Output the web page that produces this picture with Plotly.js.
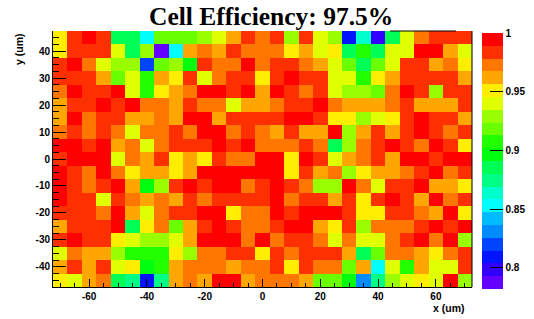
<!DOCTYPE html>
<html><head><meta charset="utf-8">
<script src="https://cdn.plot.ly/plotly-3.0.1.min.js"></script>
<style>html,body{margin:0;padding:0;background:#fff;}#chart{width:534px;height:319px;}</style>
</head><body><div id="chart"></div>
<script>
// bin centres (um)
const xCenters = [-70,-65,-60,-55,-50,-45,-40,-35,-30,-25,-20,-15,-10,-5,0,5,10,15,20,25,30,35,40,45,50,55,60,65,70];
const yCenters = [45,40,35,30,25,20,15,10,5,0,-5,-10,-15,-20,-25,-30,-35,-40,-45];

// efficiency per cell, one array per y row (top to bottom)
const effY45 = [.951,.984,.995,.984,.886,.886,.853,.918,.918,.918,.929,.940,.962,.984,.973,.984,.929,.984,.940,.929,.809,.864,.798,.886,.940,.973,.984,.984,.984];
const effY40 = [.951,.984,.984,.984,.940,.886,.929,.786,.853,.962,.973,.962,.984,.973,.973,.973,.951,.962,.940,.951,.886,.907,.886,.940,.940,.995,.995,.962,.940];
const effY35 = [.984,.995,.973,.940,.929,.929,.820,.918,.929,.896,.984,.973,.973,.995,.973,.984,.984,.973,.962,.940,.918,.886,.918,.940,.984,.984,.962,.973,.951];
const effY30 = [.984,.984,.984,.962,.918,.940,.907,.962,.951,.984,.940,.973,.984,.984,.951,.984,.995,.984,.984,.940,.940,.907,.951,.962,.984,.984,.984,.984,.962];
const effY25 = [.973,.995,.984,.984,.995,.940,.907,.951,.962,.973,.995,.995,.984,.995,.962,.995,.984,.973,.984,.940,.929,.929,.918,.973,.995,.984,.929,.984,.984];
const effY20 = [.962,.984,.984,.995,.984,.995,.973,.973,.962,.984,.973,.973,.940,.962,.962,.973,.984,.984,.995,.973,.962,.962,.962,.973,.984,.962,.962,.962,.984];
const effY15 = [.962,.995,.973,.984,.984,.962,.962,.973,.962,.995,.995,.962,.984,.984,.984,.984,.995,.995,.984,.951,.951,.929,.940,.951,.984,.995,.984,.984,.962];
const effY10 = [.973,.984,.973,.984,.973,.940,.973,.973,.984,.973,.995,.995,.973,.984,.973,.962,.984,.962,.962,.995,.929,.962,.984,.962,.984,.995,.984,.973,.984];
const effY05 = [.995,.995,.984,.995,.962,.973,.940,.973,.984,.984,.984,.995,.984,.995,.973,.973,.973,.984,.973,.886,.929,.973,.984,.995,.984,.973,.995,.984,.951];
const effY00 = [.984,.995,.995,.995,.940,.973,.962,.984,.951,.962,.951,.984,.973,.973,.995,.995,.951,.995,.984,.940,.962,.973,.984,.962,.995,.995,.984,.995,.995];
const effYm05 = [.995,.984,.973,.995,.973,.951,.962,.962,.951,.962,.995,.995,.995,.995,.995,.995,.951,.984,.962,.973,.929,.951,.962,.962,.973,.984,.995,.973,.984];
const effYm10 = [.995,.984,.973,.984,.995,.962,.896,.929,.984,.995,.984,.995,.995,.973,.984,.995,.984,.973,.929,.929,.995,.973,.940,.984,.984,.995,.962,.962,.951];
const effYm15 = [.995,.984,.984,.940,.984,.973,.962,.973,.962,.984,.973,.984,.984,.984,.984,.995,.973,.984,.984,.962,.984,.951,.984,.995,.984,.962,.995,.973,.984];
const effYm20 = [.984,.984,.984,.973,.995,.962,.940,.973,.984,.984,.995,.995,.951,.973,.973,.995,.984,.995,.995,.995,.984,.951,.951,.984,.984,.973,.962,.995,.951];
const effYm25 = [.962,.984,.984,.984,.995,.886,.951,.973,.918,.962,.984,.995,.984,.973,.973,.984,.995,.995,.962,.951,.984,.929,.973,.973,.973,.984,.995,.984,.995];
const effYm30 = [.984,.995,.984,.984,.951,.940,.929,.929,.940,.962,.995,.995,.995,.973,.995,.973,.984,.984,.973,.940,.973,.940,.940,.973,.984,.995,.973,.995,.929];
const effYm35 = [.940,.973,.962,.962,.929,.907,.907,.907,.951,.929,.973,.973,.984,.984,.951,.984,.973,.984,.984,.984,.962,.886,.918,.973,.973,.962,.951,.973,.984];
const effYm40 = [.962,.984,.962,.984,.940,.951,.896,.907,.962,.973,.973,.973,.962,.973,.973,.984,.951,.984,.973,.973,.918,.962,.853,.940,.907,.962,.940,.940,.984];
const effYm45 = [.951,.940,.962,.973,.886,.875,.809,.875,.962,.973,.962,.995,.995,.962,.973,.973,.973,.962,.918,.918,.896,.831,.875,.929,.940,.951,.940,.995,.929];

// ROOT "pretty" palette, 20 contour levels (bottom to top)
const paletteColors = ['#6300FF','#3300FF','#0014FF','#0044FF','#008BFF','#00BBFF','#00FFFC','#00FFCC','#00FF85','#00FF55',
                       '#00FF0E','#22FF00','#69FF00','#99FF00','#E0FF00','#FFEE00','#FFA700','#FF7700','#FF3000','#FF0000'];
const zMin = 0.782, zMax = 1.0;

const titleText = 'Cell Efficiency: 97.5%';
const xTitleText = 'x (um)';
const yTitleText = 'y (um)';
const xTickVals = [-60,-40,-20,0,20,40,60];
const xTickText = ['-60','-40','-20','0','20','40','60'];
const yTickVals = [-40,-30,-20,-10,0,10,20,30,40];
const yTickText = ['-40','-30','-20','-10','0','10','20','30','40'];
const cbTickVals = [0.8,0.85,0.9,0.95,1];
const cbTickText = ['0.8','0.85','0.9','0.95','1'];

const z = [effY45,effY40,effY35,effY30,effY25,effY20,effY15,effY10,effY05,effY00,
           effYm05,effYm10,effYm15,effYm20,effYm25,effYm30,effYm35,effYm40,effYm45];

const n = paletteColors.length;
const colorscale = [];
paletteColors.forEach((c,k)=>{ colorscale.push([k/n,c]); colorscale.push([(k+1)/n,c]); });

// plot geometry (px)
const W=534,H=319,L=53,R=62,T=31,B=32;
const pw=W-L-R, ph=H-T-B;
const px2x = p => (p-L)/pw;
const py2y = p => (H-B-p)/ph;

const trace = {
  type:'heatmap', x:xCenters, y:yCenters, z:z, zmin:zMin, zmax:zMax,
  colorscale:colorscale, zsmooth:false, hoverinfo:'skip',
  colorbar:{
    x:px2x(481.5), xanchor:'left', xpad:0,
    y:py2y(289), yanchor:'bottom', ypad:0,
    len:255.5, lenmode:'pixels', thickness:20.5, thicknessmode:'pixels',
    outlinewidth:0, ticks:'inside', ticklen:13, tickwidth:1, tickcolor:'#000',
    tickmode:'array', tickvals:cbTickVals, ticktext:cbTickText,
    tickfont:{family:'Liberation Sans, Arial, sans-serif', size:10, color:'#000', weight:'bold'}
  }
};

const axisFont = {family:'Liberation Sans, Arial, sans-serif', size:10, color:'#000', weight:'bold'};
const layout = {
  width:W, height:H,
  margin:{l:L,r:R,t:T,b:B,pad:0,autoexpand:false},
  paper_bgcolor:'#fff', plot_bgcolor:'#fff',
  font:axisFont,
  xaxis:{range:[-72.5,72.5], tickmode:'array', tickvals:xTickVals, ticktext:xTickText,
         ticks:'inside', ticklen:8, tickwidth:1, tickcolor:'#000',
         showline:true, linecolor:'#000', linewidth:1, mirror:false, automargin:false,
         showgrid:false, zeroline:false, tickfont:axisFont,
         minor:{tickmode:'linear', tick0:0, dtick:5, ticks:'inside', ticklen:4, tickcolor:'#000', tickwidth:1, showgrid:false}},
  yaxis:{range:[-47.5,47.5], tickmode:'array', tickvals:yTickVals, ticktext:yTickText,
         ticks:'inside', ticklen:12.5, tickwidth:1, tickcolor:'#000',
         showline:true, linecolor:'#000', linewidth:1, mirror:false, automargin:false,
         showgrid:false, zeroline:false, tickfont:axisFont,
         minor:{tickmode:'linear', tick0:0, dtick:2.5, ticks:'inside', ticklen:6, tickcolor:'#000', tickwidth:1, showgrid:false}},
  shapes:[
    {type:'line', xref:'paper', yref:'paper', x0:1, x1:1, y0:0, y1:1, line:{color:'#000', width:1}},
    {type:'line', xref:'paper', yref:'paper', x0:px2x(502), x1:px2x(502), y0:py2y(289), y1:py2y(33.5), line:{color:'#000', width:1}},
    {type:'line', xref:'paper', yref:'paper', x0:px2x(390), x1:px2x(456), y0:1, y1:1, line:{color:'#000', width:1}}
  ],
  annotations:[
    {text:titleText, xref:'paper', yref:'paper', x:px2x(270.5), y:py2y(0.5), xanchor:'center', yanchor:'top',
     borderpad:0, showarrow:false,
     font:{family:'Liberation Serif, Times New Roman, serif', size:25.5, color:'#000', weight:'bold'}},
    {text:xTitleText, xref:'paper', yref:'paper', x:px2x(467), y:py2y(307.5), xanchor:'right', yanchor:'middle',
     showarrow:false, font:{family:'Liberation Sans, Arial, sans-serif', size:10.5, color:'#000', weight:'bold'}},
    {text:yTitleText, xref:'paper', yref:'paper', x:px2x(19), y:py2y(49), xanchor:'center', yanchor:'middle',
     textangle:-90, showarrow:false, font:{family:'Liberation Sans, Arial, sans-serif', size:10.5, color:'#000', weight:'bold'}}
  ]
};

Plotly.newPlot('chart',[trace],layout,{staticPlot:true, displayModeBar:false});
</script>
</body></html>
